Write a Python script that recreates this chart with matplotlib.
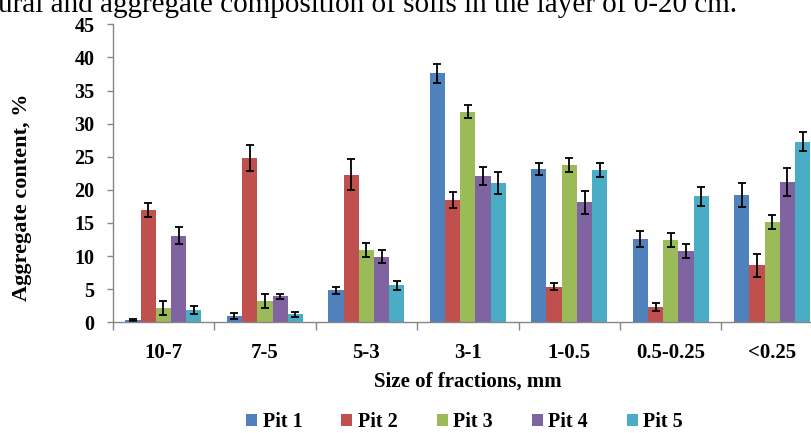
import numpy as np
import matplotlib
matplotlib.use("Agg")
import matplotlib.pyplot as plt

plt.rcParams['font.family'] = ['Liberation Serif', 'DejaVu Serif']

# ===== data =====
fractions = ["10-7", "7-5", "5-3", "3-1", "1-0.5", "0.5-0.25", "<0.25"]
pits = ["Pit 1", "Pit 2", "Pit 3", "Pit 4", "Pit 5"]
colors = ["#4F81BD", "#C0504D", "#9BBB59", "#8064A2", "#4BACC6"]

pit1 = [0.35, 0.96, 4.8, 37.6, 23.2, 12.6, 19.2]
pit2 = [16.9, 24.8, 22.3, 18.5, 5.4, 2.3, 8.6]
pit3 = [2.1, 3.2, 10.9, 31.8, 23.7, 12.4, 15.2]
pit4 = [13.1, 3.9, 9.9, 22.1, 18.1, 10.8, 21.2]
pit5 = [1.9, 1.2, 5.6, 21.0, 23.0, 19.0, 27.3]

err1 = [0.1, 0.4, 0.5, 1.45, 0.9, 1.2, 1.85]
err2 = [1.05, 1.9, 2.3, 1.2, 0.6, 0.55, 1.7]
err3 = [1.05, 1.0, 1.05, 1.0, 1.05, 1.03, 1.05]
err4 = [1.26, 0.4, 1.0, 1.4, 1.7, 1.05, 2.15]
err5 = [0.6, 0.35, 0.65, 1.7, 1.0, 1.4, 1.4]

values = [pit1, pit2, pit3, pit4, pit5]
errors = [err1, err2, err3, err4, err5]

# ===== figure =====
fig = plt.figure(figsize=(8.12, 4.33), dpi=100)
ax = fig.add_axes([0.1388, 0.2557, 0.8747, 0.6882])

x = np.arange(len(fractions))
w = 0.15
for i, (name, vals, errs, c) in enumerate(zip(pits, values, errors, colors)):
    ax.bar(x + (i - 2) * w, vals, w, color=c, label=name,
           yerr=errs, capsize=3.2,
           error_kw=dict(ecolor='black', elinewidth=1.3, capthick=1.3))

ax.set_xlim(-0.5, len(fractions) - 0.5)
ax.set_ylim(0, 45)
ax.set_yticks(np.arange(0, 46, 5))

ax.set_xticks(x)
ax.set_xticklabels(fractions)
ax.set_xticks(np.arange(-0.5, len(fractions), 1), minor=True)
ax.tick_params(axis='x', which='major', length=0, pad=15)
ax.tick_params(axis='x', which='minor', length=6, color='#868686', width=1)
ax.tick_params(axis='y', length=4, color='#868686', width=1, pad=9)

for lab in ax.get_xticklabels():
    lab.set_fontweight('bold')
    lab.set_fontsize(15)
for lab in ax.get_yticklabels():
    lab.set_fontweight('bold')
    lab.set_fontsize(14.5)

for s in ['top', 'right']:
    ax.spines[s].set_visible(False)
for s in ['left', 'bottom']:
    ax.spines[s].set_color('#868686')
    ax.spines[s].set_linewidth(1)

ax.set_xlabel("Size of fractions, mm", fontsize=15, fontweight='bold', labelpad=6)
fig.text(22 / 812, 1 - 197 / 433, "Aggregate content, %", rotation=90,
         ha='center', va='center', fontsize=16, fontweight='bold')

fig.legend(loc='center', bbox_to_anchor=(0.572, 0.026), ncol=5, frameon=False,
           prop=dict(size=14.5, weight='bold'), handlelength=0.55, handleheight=0.55,
           handletextpad=0.25, columnspacing=1.95, borderpad=0.1)

# cropped caption from the source page
fig.text(-0.002, 1 - 12.5 / 433, "ural and aggregate composition of soils in the layer of 0-20 cm.",
         ha='left', va='baseline', fontsize=21)

fig.savefig("out.png", dpi=100)
